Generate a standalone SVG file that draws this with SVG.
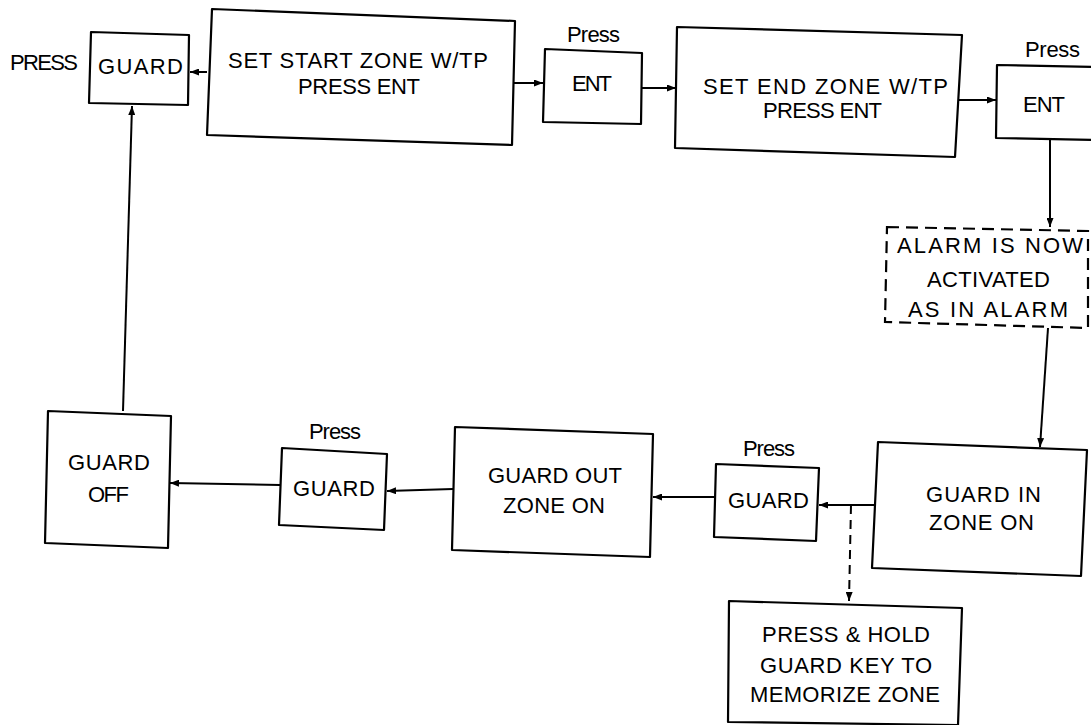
<svg xmlns="http://www.w3.org/2000/svg" width="1091" height="725" viewBox="0 0 1091 725">
<style>
.box{fill:#fff;stroke:#000;stroke-width:2.2;stroke-linejoin:round}
.dash{fill:#fff;stroke:#000;stroke-width:2.2;stroke-dasharray:12 7}
.t{font-family:"Liberation Sans",Arial,sans-serif;font-size:22px;fill:#000}
.c{fill:none;stroke:#000;stroke-width:2;marker-end:url(#ah)}
.cd{fill:none;stroke:#000;stroke-width:2;stroke-dasharray:9 6;marker-end:url(#ah)}
</style>
<defs>
<marker id="ah" markerUnits="userSpaceOnUse" markerWidth="9" markerHeight="7" refX="9" refY="3.5" orient="auto">
<path d="M0,0 L9,3.5 L0,7 z" fill="#000"/>
</marker>
</defs>
<rect width="1091" height="725" fill="#fff"/>
<g id="connectors">
<path class="c" d="M207,72 L190,72"/>
<path class="c" d="M123,411 L132,106"/>
<path class="c" d="M512,83 L543,83"/>
<path class="c" d="M642,88 L676,88"/>
<path class="c" d="M958,100 L996,100"/>
<path class="c" d="M1050,138 L1050,227"/>
<path class="c" d="M1048,328 L1040,447"/>
<path class="c" d="M875,505 L819,505"/>
<path class="cd" d="M851,505 L849,601"/>
<path class="c" d="M715,497 L653,497"/>
<path class="c" d="M453,489 L387,491"/>
<path class="c" d="M280,485 L170,483"/>
</g>
<g id="press-label"><text class="t" x="10" y="70" textLength="68" lengthAdjust="spacing">PRESS</text></g>
<g id="guard-top">
<polygon class="box" points="91,32 189,35 188,105 89,103"/>
<text class="t" x="98" y="74" textLength="85" lengthAdjust="spacing">GUARD</text>
</g>
<g id="set-start">
<polygon class="box" points="212,9 515,21 512,145 207,135"/>
<text class="t" x="228" y="68" textLength="260" lengthAdjust="spacing">SET START ZONE W/TP</text>
<text class="t" x="298" y="94" textLength="122" lengthAdjust="spacing">PRESS ENT</text>
</g>
<g id="ent1">
<text class="t" x="567" y="42" textLength="53" lengthAdjust="spacing">Press</text>
<polygon class="box" points="545,49 642,53 641,124 543,122"/>
<text class="t" x="572" y="91" textLength="40" lengthAdjust="spacing">ENT</text>
</g>
<g id="set-end">
<polygon class="box" points="677,27 962,35 955,157 675,148"/>
<text class="t" x="703" y="94" textLength="245" lengthAdjust="spacing">SET END ZONE W/TP</text>
<text class="t" x="763" y="118" textLength="119" lengthAdjust="spacing">PRESS ENT</text>
</g>
<g id="ent2">
<text class="t" x="1025" y="57" textLength="55" lengthAdjust="spacing">Press</text>
<polygon class="box" points="997,65 1096,67 1096,140 996,138"/>
<text class="t" x="1023" y="112" textLength="42" lengthAdjust="spacing">ENT</text>
</g>
<g id="alarm">
<polygon class="dash" points="887,227 1088,231 1088,328 885,322"/>
<text class="t" x="897" y="253" textLength="186" lengthAdjust="spacing">ALARM IS NOW</text>
<text class="t" x="927" y="287" textLength="123" lengthAdjust="spacing">ACTIVATED</text>
<text class="t" x="908" y="317" textLength="160" lengthAdjust="spacing">AS IN ALARM</text>
</g>
<g id="guard-in">
<polygon class="box" points="878,442 1087,450 1081,576 872,568"/>
<text class="t" x="926" y="502" textLength="115" lengthAdjust="spacing">GUARD IN</text>
<text class="t" x="929" y="530" textLength="105" lengthAdjust="spacing">ZONE ON</text>
</g>
<g id="guard3">
<text class="t" x="743" y="456" textLength="52" lengthAdjust="spacing">Press</text>
<polygon class="box" points="716,464 819,468 816,541 714,537"/>
<text class="t" x="728" y="508" textLength="81" lengthAdjust="spacing">GUARD</text>
</g>
<g id="memorize">
<polygon class="box" points="729,601 962,608 958,725 728,722"/>
<text class="t" x="762" y="642" textLength="168" lengthAdjust="spacing">PRESS &amp; HOLD</text>
<text class="t" x="760" y="673" textLength="172" lengthAdjust="spacing">GUARD KEY TO</text>
<text class="t" x="750" y="702" textLength="190" lengthAdjust="spacing">MEMORIZE ZONE</text>
</g>
<g id="guard-out">
<polygon class="box" points="455,427 653,434 650,557 452,550"/>
<text class="t" x="488" y="483" textLength="134" lengthAdjust="spacing">GUARD OUT</text>
<text class="t" x="503" y="513" textLength="102" lengthAdjust="spacing">ZONE ON</text>
</g>
<g id="guard2">
<text class="t" x="309" y="439" textLength="52" lengthAdjust="spacing">Press</text>
<polygon class="box" points="282,448 387,454 384,530 279,525"/>
<text class="t" x="293" y="496" textLength="82" lengthAdjust="spacing">GUARD</text>
</g>
<g id="guard-off">
<polygon class="box" points="48,411 171,416 168,548 45,543"/>
<text class="t" x="68" y="470" textLength="82" lengthAdjust="spacing">GUARD</text>
<text class="t" x="88" y="502" textLength="41" lengthAdjust="spacing">OFF</text>
</g>
</svg>
